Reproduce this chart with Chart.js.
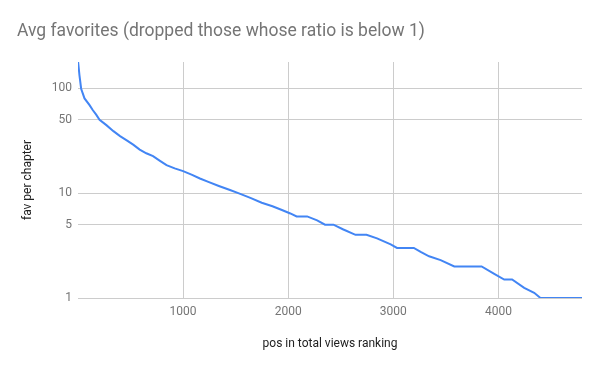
<!DOCTYPE html>
<html>
<head>
<meta charset="utf-8">
<script src="https://cdn.jsdelivr.net/npm/chart.js@4/dist/chart.umd.min.js"></script>
<style>
  html, body { margin: 0; padding: 0; background: #fff; }
  #wrap { width: 600px; height: 371px; }
</style>
</head>
<body>
<div id="wrap"><canvas id="favChart"></canvas></div>
<script>
// ---- Daten ----
const positions = [1, 14, 30, 62, 110, 140, 173, 205, 270, 337, 400, 460, 525, 587, 650, 714, 780, 842, 920, 1000,
    1080, 1160, 1240, 1340, 1446, 1525, 1640, 1748, 1850, 1940, 2020, 2080, 2180, 2275, 2350, 2430, 2525,
    2640, 2745, 2845, 2975, 3035, 3195, 3260, 3340, 3450, 3580, 3840, 3960, 4055, 4130, 4245, 4340, 4400, 4795];
const favPerChapter = [178, 133, 99, 80, 69, 62, 56, 50, 44.5, 39, 35, 32, 29, 26, 24, 22.5, 20.3, 18.5, 17.2, 16.2,
    15, 13.8, 12.8, 11.7, 10.7, 10, 9, 8.1, 7.5, 6.9, 6.4, 6, 6, 5.5, 5, 5, 4.5,
    4, 4, 3.7, 3.25, 3, 3, 2.75, 2.5, 2.3, 2, 2, 1.7, 1.5, 1.5, 1.25, 1.12, 1, 1];
const xTicks = [1000, 2000, 3000, 4000];
const yTicks = [1, 5, 10, 50, 100];

const points = positions.map((p, i) => ({ x: p, y: favPerChapter[i] }));

const gray = '#757575';
const ctx = document.getElementById('favChart').getContext('2d');
new Chart(ctx, {
    type: 'line',
    data: {
        datasets: [{
            label: 'fav per chapter',
            data: points,
            borderColor: '#4285f4',
            borderWidth: 2,
            pointRadius: 0,
            tension: 0,
            fill: false
        }]
    },
    options: {
        responsive: true,
        maintainAspectRatio: false,
        animation: false,
        layout: { padding: { left: 17, right: 18, top: 0, bottom: 0 } },
        plugins: {
            legend: { display: false },
            tooltip: { enabled: false },
            title: {
                display: true,
                text: 'Avg favorites (dropped those whose ratio is below 1)',
                align: 'start',
                color: gray,
                font: { family: 'Roboto', size: 17.5, weight: 'normal' },
                padding: { top: 21, bottom: 20 }
            }
        },
        scales: {
            x: {
                type: 'linear',
                min: 0,
                max: Math.max(...positions),
                afterBuildTicks: s => { s.ticks = xTicks.map(v => ({ value: v })); },
                afterFit: s => { s.height = 73; },
                border: { display: false },
                grid: { color: '#cccccc', drawTicks: false },
                ticks: {
                    color: gray,
                    padding: 7,
                    font: { family: 'Roboto', size: 12 },
                    callback: v => String(v)
                },
                title: {
                    display: true,
                    text: 'pos in total views ranking',
                    color: '#222222',
                    font: { family: 'Roboto', size: 12 },
                    padding: { top: 0, bottom: 19.8 }
                }
            },
            y: {
                type: 'logarithmic',
                min: 1,
                max: Math.max(...favPerChapter),
                afterBuildTicks: s => { s.ticks = yTicks.map(v => ({ value: v })); },
                afterFit: s => { s.width = 61; },
                border: { display: false },
                grid: { color: '#cccccc', drawTicks: false },
                ticks: {
                    color: gray,
                    padding: 6,
                    font: { family: 'Roboto', size: 12 },
                    callback: v => String(v)
                },
                title: {
                    display: true,
                    text: 'fav per chapter',
                    color: '#222222',
                    font: { family: 'Roboto', size: 12 },
                    padding: { top: 3.8, bottom: 0 }
                }
            }
        }
    }
});
</script>
</body>
</html>
